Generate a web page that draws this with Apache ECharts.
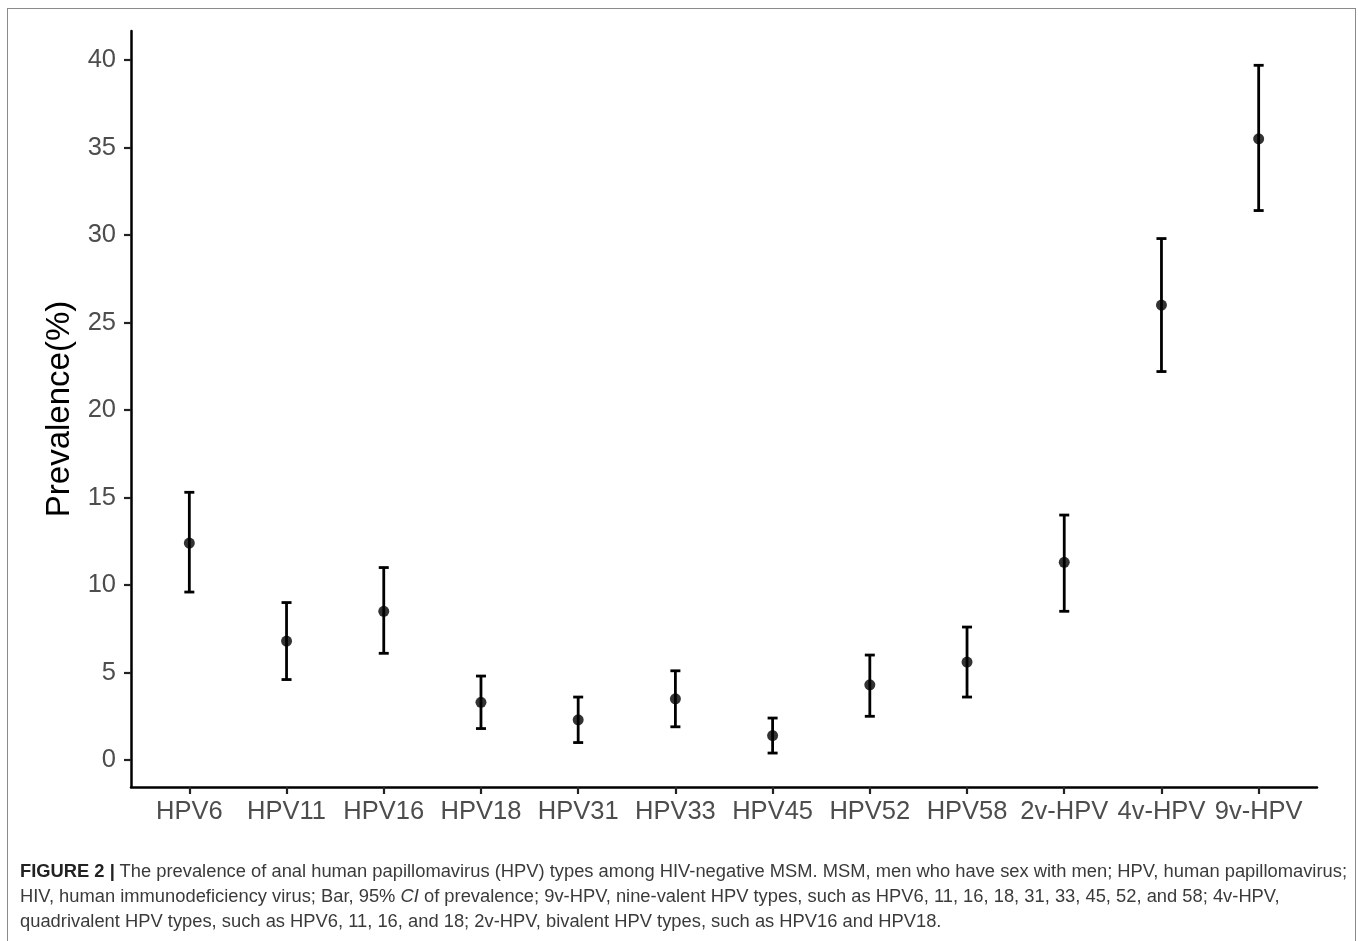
<!DOCTYPE html>
<html>
<head>
<meta charset="utf-8">
<script src="https://cdn.jsdelivr.net/npm/echarts@6/dist/echarts.min.js"></script>
<style>
  html, body { margin: 0; padding: 0; background: #fff; }
  #wrap { position: relative; width: 1358px; height: 941px; overflow: hidden; }
  #chart { position: absolute; left: 0; top: 0; width: 1358px; height: 941px; }
  #frame { position: absolute; left: 7px; top: 8px; width: 1349px; height: 940px; border: 1.5px solid #8a8a8a; box-sizing: border-box; pointer-events: none; }
  #caption { position: absolute; left: 20px; top: 859px; font-family: "Liberation Sans Narrow", "Liberation Sans", Arial, sans-serif; font-size: 17.5px; line-height: 25px; color: #3a3a3a; }
  #caption div { white-space: nowrap; transform-origin: 0 50%; }
  #caption b { font-weight: bold; color: #222; }
</style>
</head>
<body>
<div id="wrap">
  <div id="chart"></div>
  <div id="frame"></div>
  <div id="caption">
    <div class="ln"><b>FIGURE 2 |</b> The prevalence of anal human papillomavirus (HPV) types among HIV-negative MSM. MSM, men who have sex with men; HPV, human papillomavirus;</div>
    <div class="ln">HIV, human immunodeficiency virus; Bar, 95% <i>CI</i> of prevalence; 9v-HPV, nine-valent HPV types, such as HPV6, 11, 16, 18, 31, 33, 45, 52, and 58; 4v-HPV,</div>
    <div class="ln">quadrivalent HPV types, such as HPV6, 11, 16, and 18; 2v-HPV, bivalent HPV types, such as HPV16 and HPV18.</div>
  </div>
</div>
<script>
// ---- data ----
var categories = ['HPV6','HPV11','HPV16','HPV18','HPV31','HPV33','HPV45','HPV52','HPV58','2v-HPV','4v-HPV','9v-HPV'];
var prevalence = [12.4, 6.8, 8.5, 3.3, 2.3, 3.5, 1.4, 4.3, 5.6, 11.3, 26.0, 35.5];
var ciLower    = [9.6, 4.6, 6.1, 1.8, 1.0, 1.9, 0.4, 2.5, 3.6, 8.5, 22.2, 31.4];
var ciUpper    = [15.3, 9.0, 11.0, 4.8, 3.6, 5.1, 2.4, 6.0, 7.6, 14.0, 29.8, 39.7];
var yTicks     = [0, 5, 10, 15, 20, 25, 30, 35, 40];
var yTitle     = 'Prevalence(%)';

// ---- build ----
var xPositions = categories.map(function (c, i) { return i + 1; });
var pointData = prevalence.map(function (v, i) { return [i + 1, v]; });
var errData = prevalence.map(function (v, i) { return [i + 1, ciLower[i], ciUpper[i]]; });

var chart = echarts.init(document.getElementById('chart'), null, { renderer: 'canvas' });
var font = 'Liberation Sans, Arial, sans-serif';

chart.setOption({
  animation: false,
  backgroundColor: '#ffffff',
  grid: { left: 131, right: 41, top: 31, bottom: 154, containLabel: false },
  xAxis: {
    type: 'value',
    min: 0.4,
    max: 12.6,
    axisLine: { show: true, onZero: false, lineStyle: { color: '#000', width: 2.5 } },
    axisTick: { show: true, customValues: xPositions, length: 7, lineStyle: { color: '#222', width: 2.2 } },
    axisLabel: {
      customValues: xPositions,
      formatter: function (v) { return categories[Math.round(v) - 1] || ''; },
      fontSize: 25.5, color: '#4d4d4d', fontFamily: font, margin: 12
    },
    splitLine: { show: false }
  },
  yAxis: {
    type: 'value',
    min: -1.54,
    max: 41.66,
    name: yTitle,
    nameLocation: 'middle',
    nameGap: 54,
    nameTextStyle: { fontSize: 33, color: '#000', fontFamily: font },
    axisLine: { show: true, onZero: false, lineStyle: { color: '#000', width: 2.5 } },
    axisTick: { show: true, customValues: yTicks, length: 7, lineStyle: { color: '#222', width: 2.2 } },
    axisLabel: { customValues: yTicks, fontSize: 25.5, color: '#4d4d4d', fontFamily: font, margin: 15 },
    splitLine: { show: false }
  },
  series: [
    {
      type: 'custom',
      data: errData,
      encode: { x: 0, y: [1, 2] },
      renderItem: function (params, api) {
        var x = api.value(0);
        var lo = api.coord([x, api.value(1)]);
        var hi = api.coord([x, api.value(2)]);
        var hw = 5;
        var st = { stroke: '#000', lineWidth: 2.8 };
        return {
          type: 'group',
          children: [
            { type: 'line', shape: { x1: lo[0], y1: lo[1], x2: hi[0], y2: hi[1] }, style: st },
            { type: 'line', shape: { x1: lo[0] - hw, y1: lo[1], x2: lo[0] + hw, y2: lo[1] }, style: st },
            { type: 'line', shape: { x1: hi[0] - hw, y1: hi[1], x2: hi[0] + hw, y2: hi[1] }, style: st }
          ]
        };
      },
      z: 2
    },
    {
      type: 'scatter',
      data: pointData,
      symbol: 'circle',
      symbolSize: 11,
      itemStyle: { color: '#000' },
      z: 3
    }
  ]
});

// fit caption lines to the reference width
(function () {
  var lines = document.querySelectorAll('#caption .ln');
  var w = lines[0].getBoundingClientRect().width;
  var s = 1327 / w;
  lines.forEach(function (l) { l.style.transform = 'scaleX(' + s + ')'; });
})();
</script>
</body>
</html>
